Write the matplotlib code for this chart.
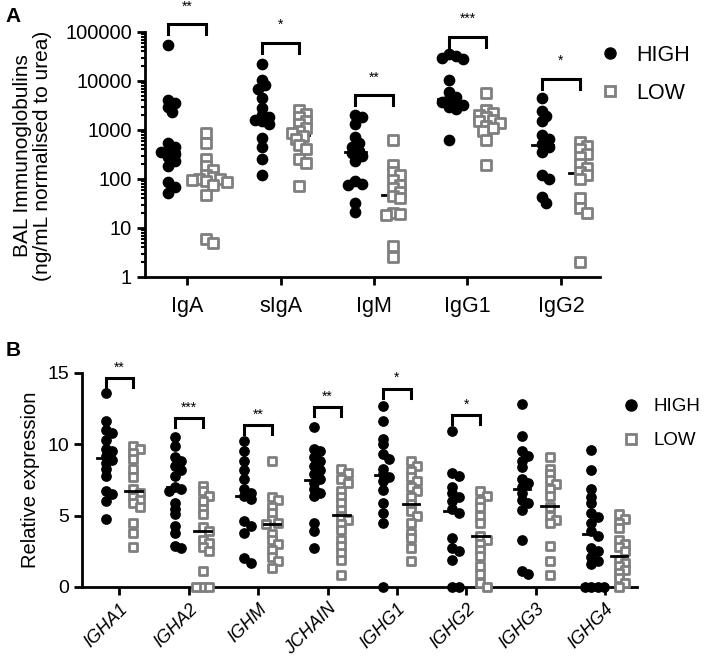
import numpy as np
import matplotlib
matplotlib.use("Agg")
from matplotlib import pyplot as plt
from matplotlib.lines import Line2D
from matplotlib.ticker import LogLocator, NullFormatter

plt.rcParams['font.family'] = ['Liberation Sans', 'DejaVu Sans']

# ---- panel A data (BAL immunoglobulins, log scale)
a_cats = ['IgA', 'sIgA', 'IgM', 'IgG1', 'IgG2']
a_high = [
    [55000, 4000, 3500, 3000, 2300, 550, 450, 380, 350, 320, 280, 230, 180, 85, 70, 52],
    [22000, 10500, 8300, 7000, 4500, 2800, 2000, 1800, 1600, 1500, 1300, 680, 460, 260, 120],
    [2000, 1800, 1300, 720, 550, 460, 380, 340, 300, 230, 90, 80, 75, 32, 21],
    [36000, 33000, 30000, 28000, 10500, 6000, 4800, 4300, 3800, 3600, 3300, 3000, 2700, 630],
    [4600, 2400, 1900, 1500, 800, 650, 520, 460, 360, 120, 100, 42, 33],
]
a_low = [
    [850, 540, 250, 180, 150, 120, 110, 100, 100, 95, 90, 85, 75, 48, 6, 5],
    [2600, 2100, 1800, 1500, 1300, 1100, 950, 850, 750, 650, 500, 400, 260, 210, 72],
    [620, 195, 140, 120, 95, 76, 65, 55, 45, 40, 20, 19, 18, 4.2, 2.5],
    [5600, 2500, 2200, 2000, 1800, 1600, 1500, 1400, 1200, 1100, 950, 620, 195],
    [580, 480, 400, 330, 280, 200, 165, 140, 120, 100, 40, 25, 20, 2.0],
]
a_high_mid = [360, 1750, 350, 4300, 490]
a_low_mid = [100, 800, 47, 1500, 135]
a_sig = ['**', '*', '**', '***', '*']
a_bracket_top = [1.45e5, 6.0e4, 5.1e3, 8.0e4, 1.1e4]
a_yticks = [1, 10, 100, 1000, 10000, 100000]
a_ytick_labels = ['1', '10', '100', '1000', '10000', '100000']

# ---- panel B data (relative expression)
b_cats = ['IGHA1', 'IGHA2', 'IGHM', 'JCHAIN', 'IGHG1', 'IGHG2', 'IGHG3', 'IGHG4']
b_high = [
    [13.6, 11.6, 11.0, 10.8, 10.3, 9.7, 9.5, 9.2, 8.9, 8.7, 8.3, 7.8, 6.7, 6.5, 6.0, 4.8],
    [10.5, 9.9, 9.1, 8.8, 8.5, 8.2, 7.8, 7.0, 6.9, 6.7, 5.9, 5.5, 5.1, 4.3, 3.8, 2.9, 2.7],
    [10.2, 9.5, 8.8, 8.2, 7.6, 6.9, 6.6, 6.4, 6.2, 4.6, 4.3, 3.8, 2.0, 1.7],
    [11.2, 9.7, 9.5, 9.1, 8.8, 8.5, 8.2, 7.9, 7.6, 7.3, 6.9, 6.6, 6.4, 4.5, 3.9, 2.7],
    [12.7, 11.6, 10.4, 10.0, 9.3, 9.0, 8.3, 7.9, 7.7, 7.4, 6.8, 5.9, 5.2, 4.5, 0.0],
    [10.9, 8.0, 7.8, 7.0, 6.6, 6.3, 6.0, 5.5, 5.2, 3.4, 2.7, 2.5, 1.9, 0.0, 0.0],
    [12.8, 10.6, 9.5, 9.2, 8.8, 8.4, 7.6, 7.3, 7.0, 6.6, 6.1, 5.9, 5.4, 3.3, 1.1, 0.9],
    [9.6, 8.2, 6.9, 6.3, 5.9, 5.2, 4.9, 4.5, 3.9, 3.6, 2.7, 2.5, 2.1, 1.8, 1.6, 0, 0, 0, 0],
]
b_low = [
    [9.9, 9.7, 9.4, 9.0, 8.3, 7.7, 6.9, 6.6, 6.3, 6.1, 5.9, 5.6, 4.5, 3.8, 2.8],
    [7.1, 6.7, 6.4, 6.0, 5.5, 5.1, 4.2, 3.9, 3.3, 3.1, 2.8, 2.5, 1.1, 0.0, 0.0, 0.0],
    [8.8, 6.3, 6.1, 5.6, 5.2, 4.7, 4.5, 4.4, 3.7, 3.3, 3.0, 2.6, 2.1, 1.8, 1.3],
    [8.3, 8.0, 7.6, 7.3, 6.7, 6.3, 5.9, 5.4, 5.0, 4.7, 4.4, 4.0, 3.3, 2.9, 2.4, 1.9, 0.85],
    [8.8, 8.5, 8.1, 7.7, 7.4, 7.0, 6.7, 6.3, 5.8, 5.3, 5.0, 4.5, 3.8, 3.4, 2.7, 1.8],
    [6.7, 6.4, 6.0, 5.6, 5.0, 4.5, 3.6, 3.3, 3.0, 2.6, 2.2, 1.5, 0.9, 0.3, 0.0],
    [9.1, 8.3, 7.9, 7.5, 7.2, 6.9, 6.4, 5.6, 5.0, 4.7, 4.5, 2.9, 1.8, 0.85],
    [5.1, 4.8, 4.5, 4.1, 3.3, 3.0, 2.8, 2.5, 1.9, 1.7, 1.5, 1.2, 1.0, 0.6, 0.3, 0.0],
]
b_high_mid = [9.07, 7.0, 6.4, 7.5, 7.85, 5.35, 6.9, 3.7]
b_low_mid = [6.7, 3.9, 4.4, 5.05, 5.8, 3.6, 5.65, 2.2]
b_sig = ['**', '***', '**', '**', '*', '*', '', '']
b_bracket_top = [14.65, 11.85, 11.35, 12.6, 13.9, 12.05, None, None]

GREY = '#7f7f7f'
OFF = 0.2


def swarm(ax, xc, vals, size_px):
    # compact beeswarm done in display pixels, returns x in data coords
    pts = ax.transData.transform(np.column_stack([np.full(len(vals), xc), vals]))
    x0 = pts[0, 0]
    steps = [0]
    for i in range(1, 20):
        steps += [i, -i]
    placed = []
    xs = []
    for _, y in pts:
        for k in steps:
            x = x0 + k * size_px * 0.35
            if all((x - px) ** 2 + (y - py) ** 2 >= (size_px * 0.6) ** 2 for px, py in placed):
                break
        placed.append((x, y))
        xs.append(x)
    back = ax.transData.inverted().transform(np.column_stack([xs, pts[:, 1]]))
    return back[:, 0]


def style_axes(ax, fs):
    for s in ['top', 'right']:
        ax.spines[s].set_visible(False)
    for s in ['left', 'bottom']:
        ax.spines[s].set_linewidth(2)
    ax.tick_params(axis='both', which='major', width=2, length=6, labelsize=fs, direction='out')


fig = plt.figure(figsize=(7.09, 6.62), dpi=100)

# ================= panel A
axA = fig.add_axes([0.2045, 0.5816, 0.642, 0.3701])
axA.set_yscale('log')
axA.set_ylim(1, 100000)
axA.set_xlim(-0.45, 4.42)
style_axes(axA, 14.5)
axA.set_yticks(a_yticks)
axA.set_yticklabels(a_ytick_labels)
axA.yaxis.set_minor_locator(LogLocator(base=10, subs=np.arange(2, 10)))
axA.yaxis.set_minor_formatter(NullFormatter())
axA.tick_params(axis='y', which='minor', width=1.5, length=3)
axA.set_xticks(range(len(a_cats)))
axA.set_xticklabels(a_cats, fontsize=15.5)
axA.tick_params(axis='x', pad=8)

for i in range(len(a_cats)):
    xh = swarm(axA, i - OFF, a_high[i], 10)
    xl = swarm(axA, i + OFF, a_low[i], 10)
    axA.scatter(xh, a_high[i], s=55, c='black', marker='o', zorder=3, clip_on=False)
    axA.scatter(xl, a_low[i], s=48, facecolors='white', edgecolors=GREY, marker='s',
                linewidths=2, zorder=3, clip_on=False)
    axA.plot([i - OFF - 0.11, i - OFF + 0.11], [a_high_mid[i]] * 2, color='black', lw=2, zorder=4)
    axA.plot([i + OFF - 0.11, i + OFF + 0.11], [a_low_mid[i]] * 2, color='black', lw=2, zorder=2)
    top = a_bracket_top[i]
    leg = top / 10 ** 0.2
    axA.plot([i - OFF, i - OFF, i + OFF, i + OFF], [leg, top, top, leg], color='black', lw=2.2,
             clip_on=False, solid_joinstyle='miter')
    axA.text(i, top * 10 ** 0.22, a_sig[i], ha='center', va='bottom', fontsize=10, clip_on=False)

axA.set_ylabel('BAL Immunoglobulins\n(ng/mL normalised to urea)', fontsize=15, linespacing=1.05)
axA.yaxis.set_label_coords(-0.205, 0.495)

handles = [
    Line2D([], [], ls='none', marker='o', color='black', markersize=8),
    Line2D([], [], ls='none', marker='s', markerfacecolor='white', markeredgecolor=GREY,
           markeredgewidth=2, markersize=7),
]
fig.legend(handles, ['HIGH', 'LOW'], loc='upper left', bbox_to_anchor=(0.815, 0.962),
           frameon=False, fontsize=15.5, handletextpad=0.6, labelspacing=0.8, handlelength=1.2)

# ================= panel B
axB = fig.add_axes([0.1157, 0.1133, 0.7828, 0.3233])
axB.set_ylim(0, 15)
axB.set_xlim(-0.54, 7.46)
style_axes(axB, 14)
axB.set_yticks([0, 5, 10, 15])
axB.set_xticks(range(len(b_cats)))
axB.set_xticklabels(b_cats, rotation=45, ha='right', rotation_mode='anchor', fontsize=13,
                    style='italic')

for i in range(len(b_cats)):
    xh = swarm(axB, i - OFF, b_high[i], 9)
    xl = swarm(axB, i + OFF, b_low[i], 9)
    axB.scatter(xh, b_high[i], s=45, c='black', marker='o', zorder=3, clip_on=False)
    axB.scatter(xl, b_low[i], s=40, facecolors='white', edgecolors=GREY, marker='s',
                linewidths=2, zorder=3, clip_on=False)
    axB.plot([i - OFF - 0.12, i - OFF + 0.12], [b_high_mid[i]] * 2, color='black', lw=2, zorder=4)
    axB.plot([i + OFF - 0.12, i + OFF + 0.12], [b_low_mid[i]] * 2, color='black', lw=2, zorder=4)
    top = b_bracket_top[i]
    if top is not None:
        axB.plot([i - OFF, i - OFF, i + OFF, i + OFF], [top - 0.65, top, top, top - 0.65],
                 color='black', lw=2.2, clip_on=False, solid_joinstyle='miter')
        axB.text(i, top + 0.25, b_sig[i], ha='center', va='bottom', fontsize=10, clip_on=False)

axB.set_ylabel('Relative expression', fontsize=14.5)
axB.yaxis.set_label_coords(-0.075, 0.5)

fig.legend(handles, ['HIGH', 'LOW'], loc='upper left', bbox_to_anchor=(0.85, 0.424),
           frameon=False, fontsize=13.5, handletextpad=0.6, labelspacing=0.9, handlelength=1.2)

fig.text(0.008, 0.99, 'A', fontsize=15, fontweight='bold', va='top')
fig.text(0.008, 0.485, 'B', fontsize=15, fontweight='bold', va='top')

fig.savefig('out.png', dpi=100)
